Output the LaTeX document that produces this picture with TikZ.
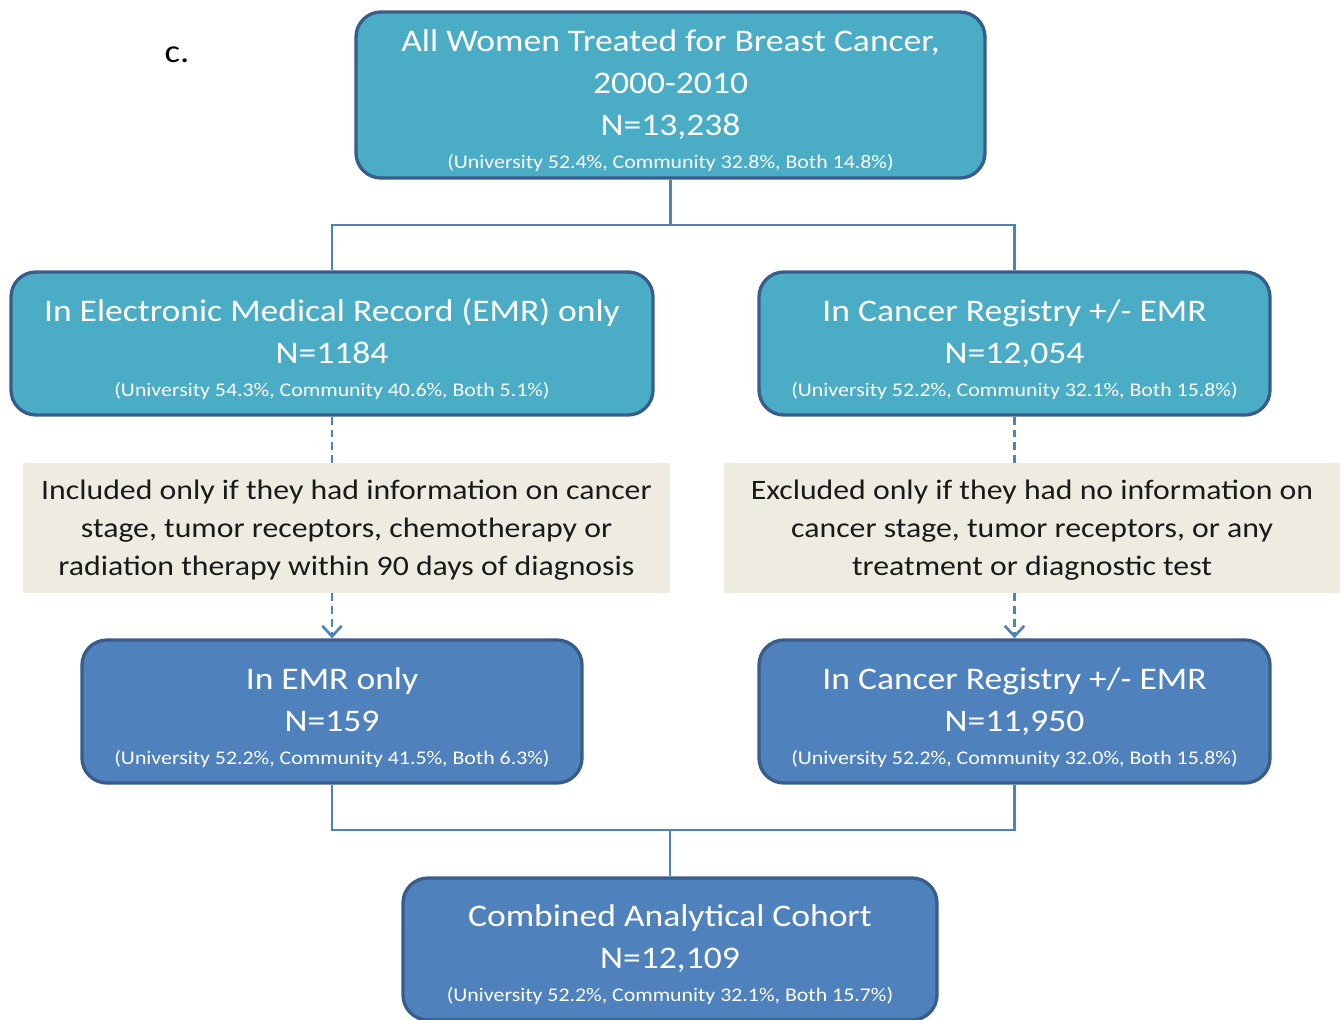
\documentclass[tikz,border=0pt]{standalone}
\usepackage{fontspec}
\setmainfont{Carlito}[FakeStretch=1.13]
\usetikzlibrary{arrows.meta}
\definecolor{tealbox}{HTML}{4BACC6}
\definecolor{bluebox}{HTML}{4F81BD}
\definecolor{boxline}{HTML}{385D8A}
\definecolor{notebox}{HTML}{EEECE1}
\definecolor{linkblue}{HTML}{4F81BD}
\tikzset{
  stagebox/.style={draw=boxline,line width=1.9pt,rounded corners=0.5cm,text=white,
    align=center,inner sep=0pt,font=\fontsize{17.9}{23.8}\selectfont},
  notepanel/.style={fill=notebox,align=center,inner sep=0pt,text=black!90,
    font=\fontsize{16}{21.5}\selectfont},
  link/.style={draw=linkblue,line width=1.2pt},
  dashlink/.style={draw=linkblue,line width=1.5pt,dash pattern=on 4.5pt off 2.8pt}
}
\newcommand{\lift}[1][19pt]{\rule{0pt}{#1}}
\newcommand{\pct}[1]{\\[-5pt]{\fontsize{11}{12}\selectfont #1}}
\begin{document}
\begin{tikzpicture}
 \useasboundingbox (0,0) rectangle (26.88,-20.38);
 \clip (0,0) rectangle (26.88,-20.38);
 \node[font=\fontsize{18.4}{20}\selectfont] (panel) at (3.54,-1.10) {c.};
 % first row
 \node[stagebox,fill=tealbox,minimum width=12.58cm,minimum height=3.32cm] (all) at (13.41,-1.90)
   {\lift All Women Treated for Breast Cancer,\\2000-2010\\N=13,238\pct{(University 52.4\%, Community 32.8\%, Both 14.8\%)}};
 % second row
 \node[stagebox,fill=tealbox,minimum width=12.84cm,minimum height=2.86cm] (emr) at (6.64,-6.87)
   {\lift In Electronic Medical Record (EMR) only\\N=1184\pct{(University 54.3\%, Community 40.6\%, Both 5.1\%)}};
 \node[stagebox,fill=tealbox,minimum width=10.22cm,minimum height=2.86cm] (reg) at (20.29,-6.87)
   {\lift In Cancer Registry +/- EMR\\N=12,054\pct{(University 52.2\%, Community 32.1\%, Both 15.8\%)}};
 % criteria
 \node[notepanel,minimum width=12.94cm,minimum height=2.60cm] (incl) at (6.93,-10.56)
   {\lift[13.5pt]Included only if they had information on cancer\\stage, tumor receptors, chemotherapy or\\radiation therapy within 90 days of diagnosis};
 \node[notepanel,minimum width=12.32cm,minimum height=2.60cm] (excl) at (20.64,-10.56)
   {\lift[13.5pt]Excluded only if they had no information on\\cancer stage, tumor receptors, or any\\treatment or diagnostic test};
 % third row
 \node[stagebox,fill=bluebox,minimum width=10.00cm,minimum height=2.86cm] (emrfinal) at (6.64,-14.23)
   {\lift In EMR only\\N=159\pct{(University 52.2\%, Community 41.5\%, Both 6.3\%)}};
 \node[stagebox,fill=bluebox,minimum width=10.22cm,minimum height=2.86cm] (regfinal) at (20.29,-14.23)
   {\lift In Cancer Registry +/- EMR\\N=11,950\pct{(University 52.2\%, Community 32.0\%, Both 15.8\%)}};
 % cohort
 \node[stagebox,fill=bluebox,minimum width=10.68cm,minimum height=2.84cm] (cohort) at (13.40,-18.98)
   {\lift Combined Analytical Cohort\\N=12,109\pct{(University 52.2\%, Community 32.1\%, Both 15.7\%)}};
 % connectors
 \coordinate (split) at (13.41,-4.50);
 \coordinate (join) at (13.40,-16.60);
 \draw[link] (all.south) -- (split);
 \draw[link] (emr.north) |- (split) -| (reg.north);
 \draw[dashlink] (emr.south) -- (emr.south |- incl.north);
 \draw[dashlink,-{Straight Barb[length=6pt,width=11pt]}] (emr.south |- incl.south) -- (emrfinal.north);
 \draw[dashlink] (reg.south) -- (reg.south |- excl.north);
 \draw[dashlink,-{Straight Barb[length=6pt,width=11pt]}] (reg.south |- excl.south) -- (regfinal.north);
 \draw[link] (emrfinal.south) |- (join) -| (regfinal.south);
 \draw[link] (join) -- (cohort.north);
\end{tikzpicture}
\end{document}
